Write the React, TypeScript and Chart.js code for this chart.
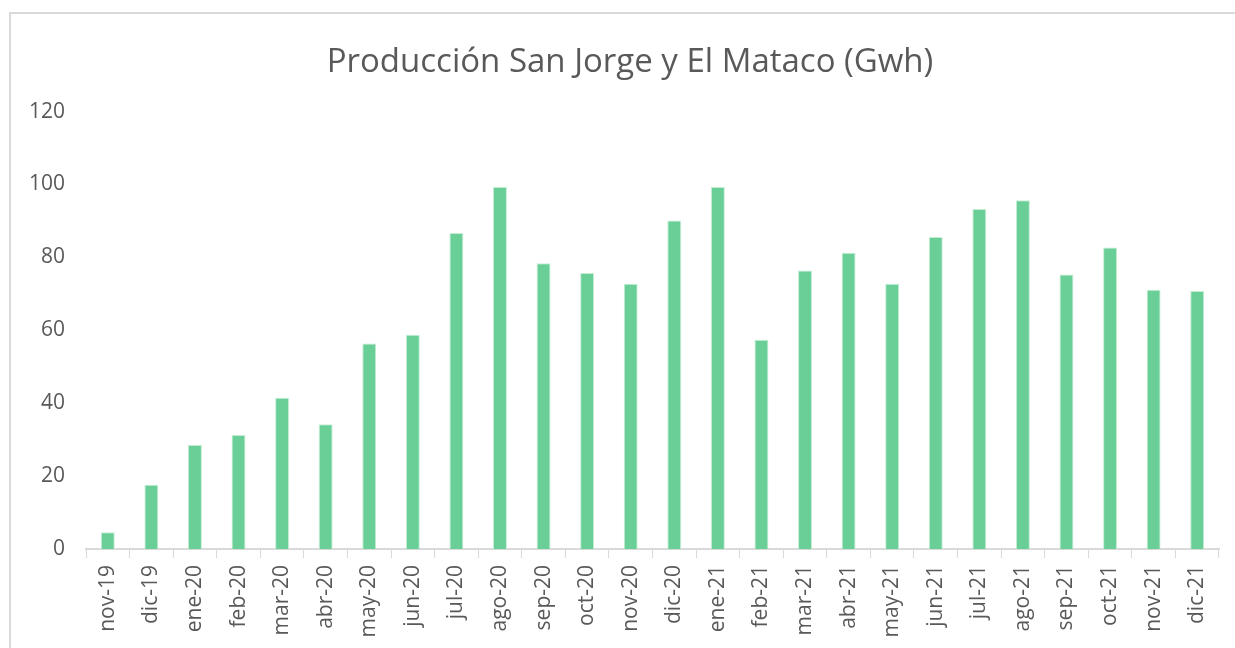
import React, { useEffect, useRef } from 'react';
import { Chart, registerables } from 'chart.js';

Chart.register(...registerables);

const chartTitle = 'Producción San Jorge y El Mataco (Gwh)';

const categories = [
  'nov-19', 'dic-19', 'ene-20', 'feb-20', 'mar-20', 'abr-20', 'may-20', 'jun-20', 'jul-20',
  'ago-20', 'sep-20', 'oct-20', 'nov-20', 'dic-20', 'ene-21', 'feb-21', 'mar-21', 'abr-21',
  'may-21', 'jun-21', 'jul-21', 'ago-21', 'sep-21', 'oct-21', 'nov-21', 'dic-21',
];

const production = [
  4.6, 17.6, 28.5, 31.3, 41.5, 34.2, 56.4, 58.8, 86.7,
  99.3, 78.4, 75.7, 72.8, 90.1, 99.3, 57.4, 76.4, 81.3,
  72.8, 85.6, 93.3, 95.7, 75.3, 82.7, 71.1, 70.8,
];

const yMin = 0;
const yMax = 120;
const yStep = 20;

const FONT = "'Open Sans', 'DejaVu Sans', sans-serif";
const TEXT = '#595959';
const AXIS = '#D9D9D9';

export default function App() {
  const ref = useRef<HTMLCanvasElement>(null);

  useEffect(() => {
    if (!ref.current) return;
    const chart = new Chart(ref.current, {
      type: 'bar',
      data: {
        labels: categories,
        datasets: [
          {
            label: chartTitle,
            data: production,
            backgroundColor: '#6ACE97',
            borderColor: '#C4EED4',
            borderWidth: 1,
            categoryPercentage: 1,
            barPercentage: 0.32,
            yAxisID: 'y',
          },
        ],
      },
      options: {
        animation: false,
        responsive: false,
        maintainAspectRatio: false,
        layout: { padding: { left: 0, right: 0, top: 10, bottom: 0 } },
        plugins: {
          legend: { display: false },
          tooltip: { enabled: false },
          title: {
            display: true,
            text: chartTitle,
            color: TEXT,
            font: { family: FONT, size: 33, weight: 'normal' },
            padding: { top: 33, bottom: 29 },
          },
        },
        scales: {
          x: {
            grid: {
              display: true,
              drawOnChartArea: false,
              offset: true,
              color: AXIS,
              tickColor: AXIS,
              lineWidth: 1,
              tickLength: 9,
            },
            border: { display: true, color: AXIS, width: 2 },
            ticks: {
              autoSkip: false,
              maxRotation: 90,
              minRotation: 90,
              padding: 7,
              color: TEXT,
              font: { family: FONT, size: 21 },
            },
            afterFit: (s: any) => {
              s.height = 99;
            },
          },
          y: {
            min: yMin,
            max: yMax,
            grid: { display: false, drawTicks: false },
            border: { display: false },
            ticks: {
              stepSize: yStep,
              padding: 21,
              color: TEXT,
              font: { family: FONT, size: 21 },
            },
            afterFit: (s: any) => {
              s.width = 86;
            },
          },
          spacer: {
            type: 'linear',
            position: 'right',
            min: yMin,
            max: yMax,
            grid: { display: false, drawTicks: false },
            border: { display: false },
            ticks: { display: false },
            afterFit: (s: any) => {
              s.width = 41;
            },
          },
        },
      },
    });
    return () => chart.destroy();
  }, []);

  return (
    <div
      style={{
        position: 'absolute',
        left: 0,
        top: 0,
        width: 1235,
        height: 648,
        overflow: 'hidden',
        background: '#FFFFFF',
      }}
    >
      <div
        style={{
          position: 'absolute',
          left: 9,
          top: 12,
          width: 1260,
          height: 700,
          border: '2px solid #D9D9D9',
          boxSizing: 'border-box',
        }}
      />
      <canvas
        ref={ref}
        width={1260}
        height={648}
        style={{ position: 'absolute', left: 0, top: 0 }}
      />
    </div>
  );
}
